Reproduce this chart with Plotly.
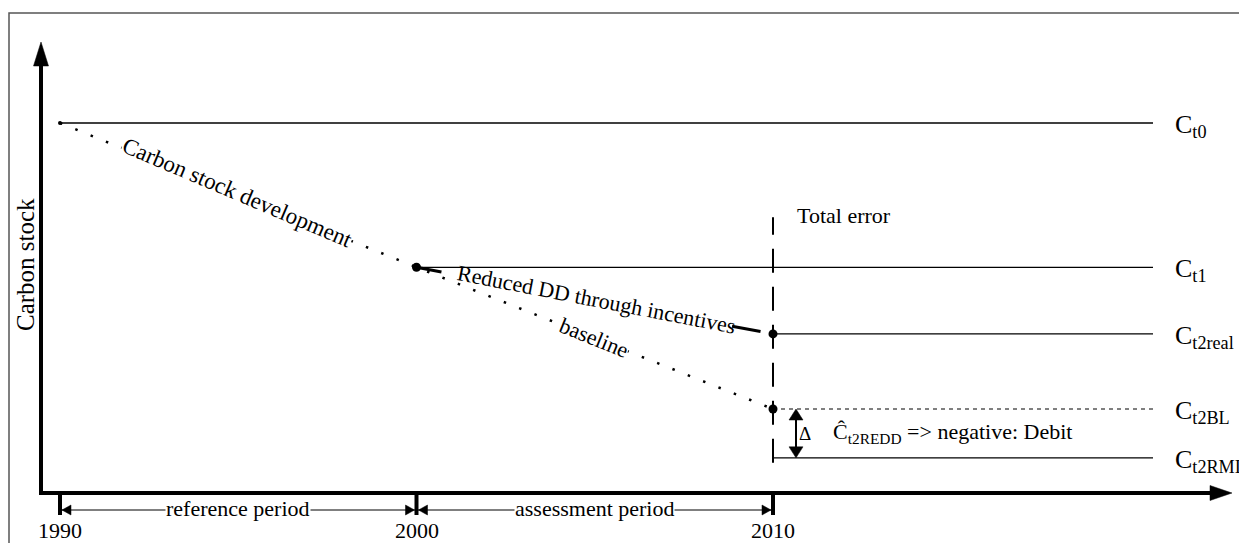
import plotly.graph_objects as go

# ---------------- data ----------------
years = [1990, 2000, 2010]
year_labels = ["1990", "2000", "2010"]
period_labels = ["reference period", "assessment period"]
level_labels = ["C<sub>t0</sub>", "C<sub>t1</sub>", "C<sub>t2real</sub>",
                "C<sub>t2BL</sub>", "C<sub>t2RMI</sub>"]
levels = [100, 61, 43, 22.7, 9.5]          # Ct0, Ct1, Ct2real, Ct2BL, Ct2RMI
baseline_levels = [levels[0], levels[1], levels[3]]   # baseline at 1990, 2000, 2010
reduced_levels = [levels[1], levels[2]]                # reduced DD 2000 -> 2010

# ---------------- layout scale ----------------
W, H = 1239, 543
PXY = 35.65        # pixels per year
PXU = 3.7          # pixels per carbon-stock unit
X0PX, Y0PX = 60, 493
xr = [years[0] - X0PX / PXY, years[0] + (W - X0PX) / PXY]
yr = [-(H - Y0PX) / PXU, Y0PX / PXU]


def dx(p):
    return p / PXY


def dy(p):
    return p / PXU


FONT = "Liberation Serif"
BLK = "#000000"
x_end = years[2] + dx(380)
x_lab = years[2] + dx(400)

fig = go.Figure()

# horizontal level lines
starts = [years[0], years[1], years[2], years[2], years[2]]
widths = [1.5, 1.2, 1.2, 1.0, 1.2]
dashes = ["solid", "solid", "solid", "4px,4px", "solid"]
for s, lv, w, d in zip(starts, levels, widths, dashes):
    fig.add_trace(go.Scatter(x=[s, x_end], y=[lv, lv], mode="lines",
                             line=dict(color=BLK, width=w, dash=d),
                             hoverinfo="skip", showlegend=False))

# baseline (dotted)
fig.add_trace(go.Scatter(x=years, y=baseline_levels, mode="lines",
                         line=dict(color=BLK, width=2.5, dash="2.5px,14px"),
                         hoverinfo="skip", showlegend=False))


def seg(xs, ys, f0, f1):
    return ([xs[0] + f0 * (xs[1] - xs[0]), xs[0] + f1 * (xs[1] - xs[0])],
            [ys[0] + f0 * (ys[1] - ys[0]), ys[0] + f1 * (ys[1] - ys[0])])


# reduced deforestation line (visible on both sides of its label)
for f0, f1 in [(0.0, 0.07), (0.885, 0.965)]:
    sx, sy = seg(years[1:], reduced_levels, f0, f1)
    fig.add_trace(go.Scatter(x=sx, y=sy, mode="lines",
                             line=dict(color=BLK, width=3),
                             hoverinfo="skip", showlegend=False))
# vertical dashed "total error" line
fig.add_trace(go.Scatter(x=[years[2], years[2]],
                         y=[levels[4] - dy(5), levels[1] + dy(50)], mode="lines",
                         line=dict(color=BLK, width=2, dash="24px,14px"),
                         hoverinfo="skip", showlegend=False))
# markers
fig.add_trace(go.Scatter(x=[years[1], years[2], years[2]],
                         y=[levels[1], levels[2], levels[3]], mode="markers",
                         marker=dict(color=BLK, size=9),
                         hoverinfo="skip", showlegend=False))
fig.add_trace(go.Scatter(x=[years[0]], y=[levels[0]], mode="markers",
                         marker=dict(color=BLK, size=4),
                         hoverinfo="skip", showlegend=False))

shapes = []


def tri(tipx, tipy, direction, length_px, half_px):
    """filled triangle path; direction in {'up','down','left','right'}"""
    if direction == "up":
        pts = [(tipx, tipy), (tipx - dx(half_px), tipy - dy(length_px)),
               (tipx + dx(half_px), tipy - dy(length_px))]
    elif direction == "down":
        pts = [(tipx, tipy), (tipx - dx(half_px), tipy + dy(length_px)),
               (tipx + dx(half_px), tipy + dy(length_px))]
    elif direction == "right":
        pts = [(tipx, tipy), (tipx - dx(length_px), tipy + dy(half_px)),
               (tipx - dx(length_px), tipy - dy(half_px))]
    else:
        pts = [(tipx, tipy), (tipx + dx(length_px), tipy + dy(half_px)),
               (tipx + dx(length_px), tipy - dy(half_px))]
    path = "M " + " L ".join(f"{a},{b}" for a, b in pts) + " Z"
    return dict(type="path", path=path, xref="x", yref="y",
                fillcolor=BLK, line=dict(color=BLK, width=0.5))


# axes
yaxis_x = years[0] - dx(19)
ytip = dy(Y0PX - 42)
xtip = years[0] + dx(1232 - X0PX)
shapes.append(dict(type="line", xref="x", yref="y", x0=yaxis_x, x1=yaxis_x,
                   y0=-dy(2), y1=ytip - dy(20), line=dict(color=BLK, width=4)))
shapes.append(tri(yaxis_x, ytip, "up", 24, 7.5))
shapes.append(dict(type="line", xref="x", yref="y", x0=yaxis_x - dx(2), x1=xtip - dx(18),
                   y0=0, y1=0, line=dict(color=BLK, width=4)))
shapes.append(tri(xtip, 0, "right", 22, 7.5))

# ticks and period arrows
yper = -dy(17)
for yv in years:
    shapes.append(dict(type="line", xref="x", yref="y", x0=yv, x1=yv,
                       y0=0, y1=-dy(22), line=dict(color=BLK, width=4)))
for a, b in zip(years[:-1], years[1:]):
    shapes.append(dict(type="line", xref="x", yref="y", x0=a, x1=b,
                       y0=yper, y1=yper, line=dict(color=BLK, width=1)))
    shapes.append(tri(a + dx(2), yper, "left", 9, 5))
    shapes.append(tri(b - dx(2), yper, "right", 9, 5))

# delta double arrow
xd = years[2] + dx(23)
shapes.append(dict(type="line", xref="x", yref="y", x0=xd, x1=xd,
                   y0=levels[4] + dy(8), y1=levels[3] - dy(8),
                   line=dict(color=BLK, width=2)))
shapes.append(tri(xd, levels[3], "up", 11, 7))
shapes.append(tri(xd, levels[4], "down", 11, 7))

# outer frame
shapes.append(dict(type="rect", xref="paper", yref="paper",
                   x0=9 / W, x1=1.01, y0=-0.01, y1=1 - 13 / H,
                   line=dict(color="#555555", width=1.5)))

ann = []
TXT = dict(family=FONT, size=22, color=BLK)
# level labels
for lab, lv in zip(level_labels, levels):
    ann.append(dict(x=x_lab, y=lv, text=lab, showarrow=False, xanchor="left",
                    yanchor="middle", font=dict(family=FONT, size=26, color=BLK),
                    yshift=-3))
# year labels
for yv, lab in zip(years, year_labels):
    ann.append(dict(x=yv, y=-dy(37), text=lab, showarrow=False, font=TXT,
                    xanchor="center", yanchor="middle"))
# period labels
for (a, b), lab in zip(zip(years[:-1], years[1:]), period_labels):
    ann.append(dict(x=(a + b) / 2, y=yper, text=lab, showarrow=False, font=TXT,
                    bgcolor="white", borderpad=0, xanchor="center", yanchor="middle",
                    yshift=2))


def on_line(xs, ys, xv):
    t = (xv - xs[0]) / (xs[-1] - xs[0])
    return ys[0] + t * (ys[-1] - ys[0])


# slanted labels
xc = years[0] + dx(177)
ann.append(dict(x=xc, y=on_line([years[0], years[2]], [levels[0], levels[3]], xc),
                text="Carbon stock development", showarrow=False, textangle=23,
                font=dict(family=FONT, size=23, color=BLK), bgcolor="white",
                borderpad=0, yshift=2))
xb = years[1] + dx(177)
ann.append(dict(x=xb, y=on_line([years[1], years[2]], [levels[1], levels[3]], xb),
                text="baseline", showarrow=False, textangle=22,
                font=TXT, bgcolor="white", borderpad=0))
xr_ = years[1] + dx(180)
ann.append(dict(x=xr_, y=on_line(years[1:], reduced_levels, xr_),
                text="Reduced DD through incentives", showarrow=False, textangle=11,
                font=TXT, yshift=1))
# total error
ann.append(dict(x=years[2] + dx(22), y=levels[1] + dy(52), text="Total error",
                showarrow=False, xanchor="left", yanchor="middle", font=TXT))
# delta and REDD estimate
ann.append(dict(x=xd + dx(9), y=(levels[3] + levels[4]) / 2, text="Δ",
                showarrow=False, xanchor="center", yanchor="middle",
                font=dict(family=FONT, size=19, color=BLK)))
ann.append(dict(x=xd + dx(35), y=(levels[3] + levels[4]) / 2,
                text="Ĉ<sub>t2REDD</sub> =&gt; negative: Debit", showarrow=False,
                xanchor="left", yanchor="middle", font=TXT))
# y axis title
ann.append(dict(x=yaxis_x - dx(16), y=dy(Y0PX - 265), text="Carbon stock",
                showarrow=False, textangle=-90,
                font=dict(family=FONT, size=25, color=BLK),
                xanchor="center", yanchor="middle"))

fig.update_layout(
    width=W, height=H, autosize=False,
    margin=dict(l=0, r=0, t=0, b=0),
    paper_bgcolor="white", plot_bgcolor="white",
    xaxis=dict(range=xr, visible=False, fixedrange=True),
    yaxis=dict(range=yr, visible=False, fixedrange=True),
    shapes=shapes, annotations=ann, showlegend=False,
)

fig.write_html("out.html", config={"displayModeBar": False},
               post_script="document.body.style.margin='0';document.body.style.overflow='hidden';")
